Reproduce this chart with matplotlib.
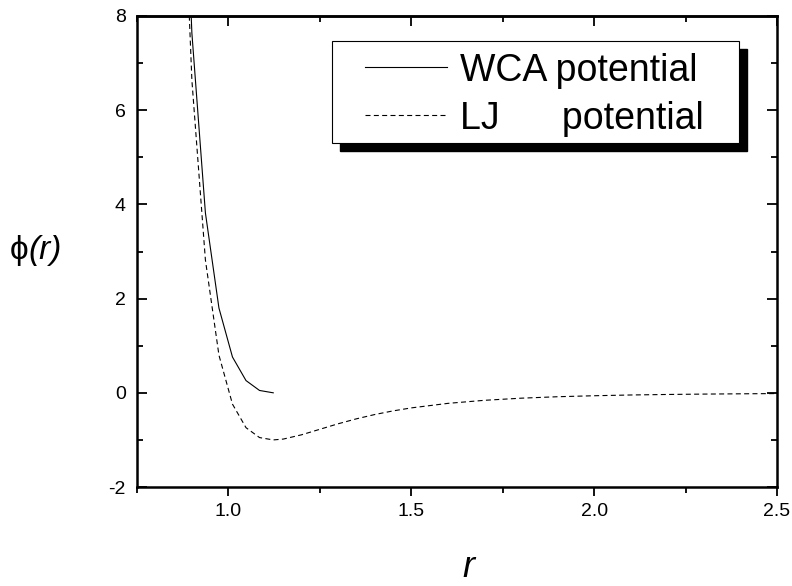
import numpy as np
import matplotlib.pyplot as plt
from matplotlib.patches import Rectangle
from matplotlib.ticker import MultipleLocator

plt.rcParams['font.family'] = ['Liberation Sans', 'DejaVu Sans']
plt.rcParams['axes.unicode_minus'] = False

# WCA potential (shifted, cut at the minimum)
r_wca = [0.863, 0.900, 0.937, 0.974, 1.011, 1.048, 1.085, 1.1225]
phi_wca = [14.76, 7.64, 3.82, 1.80, 0.76, 0.26, 0.05, 0.0]

# LJ potential
r_lj = [0.863, 0.900, 0.937, 0.974, 1.011, 1.048, 1.085, 1.1225, 1.15, 1.2, 1.25,
        1.3, 1.35, 1.4, 1.45, 1.5, 1.6, 1.7, 1.8, 1.9, 2.0, 2.1, 2.2, 2.3, 2.4, 2.5]
phi_lj = [13.76, 6.64, 2.82, 0.80, -0.24, -0.74, -0.95, -1.00, -0.982, -0.891, -0.774,
          -0.657, -0.552, -0.461, -0.384, -0.320, -0.224, -0.159, -0.114, -0.083,
          -0.062, -0.046, -0.035, -0.027, -0.021, -0.016]

labels = ['WCA potential', 'LJ      potential']

fig = plt.figure(figsize=(7.92, 5.86), dpi=100)
ax = fig.add_axes([0.1730, 0.1689, 0.8081, 0.8038])

ax.plot(r_wca, phi_wca, color='black', lw=0.8, label=labels[0])
ax.plot(r_lj, phi_lj, color='black', lw=0.8, linestyle=(0, (4.5, 3)), label=labels[1])

ax.set_xlim(0.75, 2.5)
ax.set_ylim(-2, 8)
ax.xaxis.set_major_locator(MultipleLocator(0.5))
ax.xaxis.set_minor_locator(MultipleLocator(0.25))
ax.yaxis.set_major_locator(MultipleLocator(2))
ax.yaxis.set_minor_locator(MultipleLocator(1))
ax.xaxis.set_major_formatter(plt.FuncFormatter(lambda v, p: '%.1f' % v))

for sp in ax.spines.values():
    sp.set_linewidth(1.8)

ax.tick_params(axis='x', which='both', direction='out', top=False, labelsize=14, pad=5)
ax.tick_params(axis='x', which='major', length=6.5, width=1.3)
ax.tick_params(axis='x', which='minor', length=4, width=1.3)
ax.tick_params(axis='y', which='both', direction='in', right=True, labelsize=14, pad=8)
ax.tick_params(axis='y', which='major', length=7, width=1.3)
ax.tick_params(axis='y', which='minor', length=4, width=1.3)

# top axis with inward ticks
top = ax.secondary_xaxis('top')
top.xaxis.set_major_locator(MultipleLocator(0.5))
top.xaxis.set_minor_locator(MultipleLocator(0.25))
top.tick_params(axis='x', which='both', direction='in', labeltop=False, width=1.3)
top.tick_params(axis='x', which='major', length=7)
top.tick_params(axis='x', which='minor', length=4)
top.spines['top'].set_linewidth(1.8)

# legend box with a solid black shadow (Origin style)
bx0, by0, bw, bh = 0.3047, 0.7304, 0.6359, 0.2165
ax.add_patch(Rectangle((bx0 + 0.0125, by0 - 0.017), bw, bh, transform=ax.transAxes,
                       facecolor='black', edgecolor='black', zorder=4))
ax.add_patch(Rectangle((bx0, by0), bw, bh, transform=ax.transAxes,
                       facecolor='white', edgecolor='black', lw=0.8, zorder=5))
leg = ax.legend(loc='upper left', bbox_to_anchor=(0.356, 0.9225), borderaxespad=0,
                fontsize=27, frameon=False, handlelength=2.2, handletextpad=0.35,
                borderpad=0, labelspacing=0.32)
leg.set_zorder(6)

t1 = fig.text(0.0126, 0.572, 'ϕ', fontsize=24, va='center', ha='left')
ax.annotate('(r)', xy=(1.0, 0.5), xycoords=t1, va='center', ha='left',
            fontsize=24, style='italic')

fig.text(0.591, 0.016, 'r', fontsize=26, style='italic', ha='center', va='baseline')

fig.savefig('out.png', dpi=100)
